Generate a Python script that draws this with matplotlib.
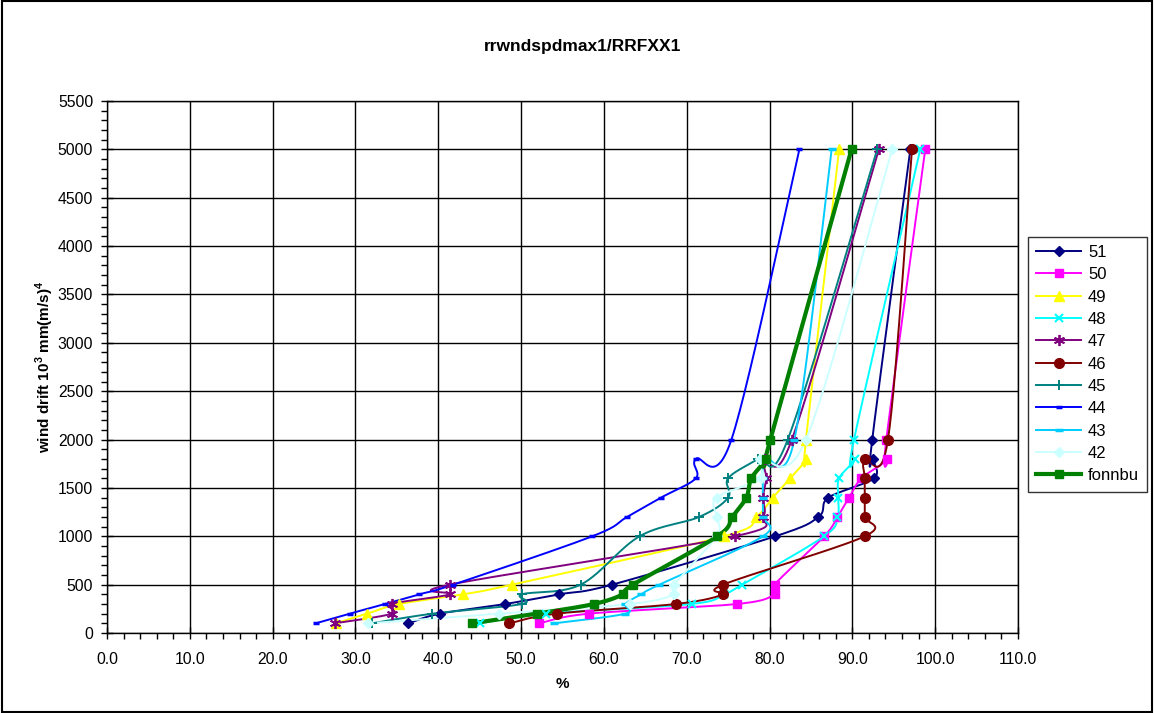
import matplotlib
matplotlib.use("Agg")
import matplotlib.pyplot as plt
import numpy as np
from matplotlib.lines import Line2D
from matplotlib.ticker import MultipleLocator, FormatStrFormatter

plt.rcParams['font.family'] = ['Liberation Sans', 'DejaVu Sans']
plt.rcParams['mathtext.fontset'] = 'custom'
plt.rcParams['mathtext.rm'] = 'Liberation Sans'
plt.rcParams['mathtext.bf'] = 'Liberation Sans:bold'

# wind drift levels (same for every series)
drift = [100, 200, 300, 400, 500, 1000, 1200, 1400, 1600, 1800, 2000, 5000]

# percent values per series
s51 = [36.4, 40.2, 48.1, 54.6, 61.0, 80.7, 85.9, 87.1, 92.6, 92.5, 92.4, 97.0]
s50 = [52.2, 58.2, 76.1, 80.6, 80.6, 86.6, 88.2, 89.6, 91.1, 94.2, 94.1, 98.8]
s49 = [27.6, 31.4, 35.3, 43.0, 48.9, 74.5, 78.4, 80.4, 82.5, 84.4, 84.4, 88.4]
s48 = [45.0, 53.0, 70.6, 74.5, 76.7, 86.6, 88.2, 88.3, 88.4, 90.3, 90.2, 98.2]
s47 = [27.5, 34.4, 34.4, 41.4, 41.4, 75.8, 79.2, 79.2, 79.6, 79.5, 82.7, 93.2]
s46 = [48.6, 54.3, 68.7, 74.4, 74.4, 91.5, 91.5, 91.5, 91.5, 91.5, 94.3, 97.2]
s45 = [32.0, 39.3, 50.1, 50.1, 57.2, 64.3, 71.5, 75.0, 75.0, 78.6, 82.2, 93.0]
s44 = [25.2, 29.3, 33.6, 37.7, 41.8, 58.6, 62.8, 66.9, 71.1, 71.1, 75.4, 83.6]
s43 = [54.0, 62.6, 62.6, 64.5, 66.7, 79.2, 79.2, 79.2, 79.2, 79.5, 83.0, 87.5]
s42 = [31.5, 47.3, 63.2, 68.5, 68.5, 73.6, 73.6, 73.6, 79.0, 78.9, 84.4, 94.8]
fonnbu = [44.1, 51.9, 58.8, 62.3, 63.5, 73.7, 75.5, 77.2, 77.8, 79.6, 80.1, 89.9]

names = ['51', '50', '49', '48', '47', '46', '45', '44', '43', '42', 'fonnbu']
series = [s51, s50, s49, s48, s47, s46, s45, s44, s43, s42, fonnbu]
colors = ['#000080', '#FF00FF', '#FFFF00', '#00FFFF', '#800080', '#800000',
          '#008080', '#0000FF', '#00CCFF', '#CCFFFF', '#008000']

asterisk = (6, 2, 0)
styles = {
    '51': dict(marker='D', ms=5),
    '50': dict(marker='s', ms=6),
    '49': dict(marker='^', ms=7),
    '48': dict(marker='x', ms=6, mew=1.5),
    '47': dict(marker=asterisk, ms=8, mew=1.3),
    '46': dict(marker='o', ms=7),
    '45': dict(marker='+', ms=7, mew=1.4),
    '44': dict(marker='_', ms=4, mew=2.5),
    '43': dict(marker='_', ms=6, mew=2.5),
    '42': dict(marker='D', ms=5),
    'fonnbu': dict(marker='s', ms=6),
}


def smooth(x, y, n=30):
    # smoothed line through the points (cubic bezier, catmull-rom handles)
    x = np.asarray(x, float)
    y = np.asarray(y, float)
    px = np.concatenate([[x[0]], x, [x[-1]]])
    py = np.concatenate([[y[0]], y, [y[-1]]])
    t = np.linspace(0, 1, n)[:, None]
    out_x, out_y = [], []
    for i in range(1, len(px) - 2):
        p0 = np.array([px[i], py[i]])
        p3 = np.array([px[i + 1], py[i + 1]])
        c1 = p0 + (np.array([px[i + 1], py[i + 1]]) - np.array([px[i - 1], py[i - 1]])) / 6
        c2 = p3 - (np.array([px[i + 2], py[i + 2]]) - np.array([px[i], py[i]])) / 6
        b = ((1 - t) ** 3) * p0 + 3 * ((1 - t) ** 2) * t * c1 + 3 * (1 - t) * t ** 2 * c2 + t ** 3 * p3
        out_x.extend(b[:, 0])
        out_y.extend(b[:, 1])
    return out_x, out_y


fig = plt.figure(figsize=(11.54, 7.13), dpi=100)
ax = fig.add_axes([107 / 1154, 1 - 633 / 713, (1018 - 107) / 1154, (633 - 101) / 713])

handles = []
for name, vals, col in zip(names, series, colors):
    st = styles[name]
    lw = 3 if name == 'fonnbu' else 1.4
    sx, sy = smooth(vals, drift)
    ax.plot(sx, sy, color=col, lw=lw, zorder=3, clip_on=False)
    ax.plot(vals, drift, linestyle='none', marker=st['marker'], ms=st['ms'],
            mew=st.get('mew', 1), color=col, mfc=col, mec=col, zorder=4, clip_on=False)
    handles.append(Line2D([], [], color=col, lw=lw, marker=st['marker'], ms=st['ms'],
                          mew=st.get('mew', 1), mfc=col, mec=col))

ax.set_xlim(0, 110)
ax.set_ylim(0, 5500)
ax.xaxis.set_major_locator(MultipleLocator(10))
ax.xaxis.set_minor_locator(MultipleLocator(2))
ax.xaxis.set_major_formatter(FormatStrFormatter('%.1f'))
ax.yaxis.set_major_locator(MultipleLocator(500))
ax.yaxis.set_minor_locator(MultipleLocator(100))
ax.tick_params(which='major', direction='inout', length=8, width=1, labelsize=11.3)
ax.tick_params(axis='x', which='major', pad=10)
ax.tick_params(axis='y', which='major', pad=6)
ax.tick_params(which='minor', direction='out', length=4, width=1)
ax.grid(True, which='major', color='black', lw=1)
for sp in ax.spines.values():
    sp.set_color('black')
    sp.set_linewidth(1)
ax.set_axisbelow(True)

ax.set_xlabel('%', fontsize=11, fontweight='bold', labelpad=7)
ax.set_ylabel(r'wind drift 10$^\mathbf{3}$ mm(m/s)$^\mathbf{4}$', fontsize=11,
              fontweight='bold', labelpad=1)
fig.text(0.505, 1 - 46 / 713, 'rrwndspdmax1/RRFXX1', ha='center', va='center',
         fontsize=12.5, fontweight='bold')

leg = ax.legend(handles, names, loc='upper left', bbox_to_anchor=(1.011, 0.745),
                frameon=True, fancybox=False, fontsize=12, handlelength=2.7,
                borderpad=0.5, labelspacing=0.44, handletextpad=0.4, borderaxespad=0)
leg.get_frame().set_edgecolor('black')
leg.get_frame().set_linewidth(1)

# outer chart border
fig.patches.append(plt.Rectangle((0.002, 0.002), 0.996, 0.996, transform=fig.transFigure,
                                 fill=False, edgecolor='black', lw=1.5))

fig.savefig('out.png', dpi=100)
